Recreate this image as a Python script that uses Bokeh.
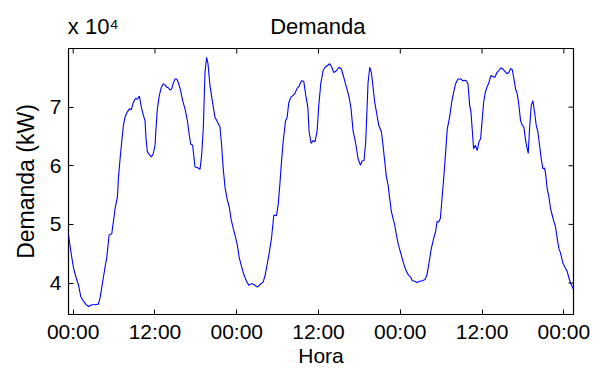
from bokeh.plotting import figure
from bokeh.models import Range1d, FixedTicker, LinearAxis
from bokeh.embed import file_html
from bokeh.resources import INLINE
import math

# Time in hours from the first midnight
hora = [-0.69, -0.35, 0.04, 0.43, 0.77, 1.11, 1.50, 1.90, 2.29, 2.73, 3.21, 3.70, 3.95, 4.34, 4.73, 4.92,
        5.27, 5.66, 5.90, 6.15, 6.49, 6.63, 6.88, 7.12, 7.37, 7.61, 7.95, 8.25, 8.54, 8.83, 9.08, 9.47,
        9.71, 10.00, 10.30, 10.54, 10.69, 10.88, 11.18, 11.47, 11.76, 12.01, 12.15, 12.35, 12.64, 12.94,
        13.23, 13.47, 13.72, 13.96, 14.21, 14.45, 14.70, 14.94, 15.19, 15.43, 15.77, 16.06, 16.41, 16.75,
        17.04, 17.24, 17.53, 17.87, 18.21, 18.61, 18.85, 19.09, 19.34, 19.58, 19.78, 20.07, 20.41, 20.80,
        21.15, 21.54, 21.78, 22.02, 22.27, 22.61, 22.90, 23.15, 23.49, 23.83, 24.08, 24.37, 24.71, 25.05,
        25.44, 25.79, 26.18, 26.57, 27.01, 27.40, 27.89, 28.18, 28.37, 28.76, 29.10, 29.44, 29.84, 30.08,
        30.32, 30.57, 30.81, 31.15, 31.40, 31.64, 31.94, 32.28, 32.57, 32.86, 33.16, 33.50, 33.84, 34.13,
        34.43, 34.62, 34.92, 35.21, 35.50, 35.80, 36.04, 36.33, 36.67, 36.97, 37.31, 37.65, 37.95, 38.24,
        38.63, 39.02, 39.36, 39.70, 40.09, 40.49, 40.78, 41.07, 41.46, 41.80, 42.15, 42.39, 42.68, 42.93,
        43.27, 43.52, 43.76, 44.01, 44.25, 44.59, 44.84, 45.23, 45.47, 45.72, 45.96, 46.21, 46.45, 46.69,
        46.94, 47.18, 47.43, 47.67, 47.92, 48.26, 48.55, 48.89, 49.23, 49.53, 49.77, 50.11, 50.46, 50.85,
        51.24, 51.63, 51.92, 52.21, 52.56, 52.90, 53.19, 53.39, 53.63, 53.88, 54.17, 54.41, 54.66, 54.90,
        55.24, 55.54, 55.83, 56.12, 56.46, 56.85, 57.20, 57.49, 57.69, 57.93, 58.18, 58.37, 58.57, 58.76,
        59.01, 59.30, 59.55, 59.79, 60.03, 60.23, 60.47, 60.72, 61.01, 61.30, 61.60, 61.89, 62.18, 62.43,
        62.77, 63.06, 63.36, 63.65, 63.94, 64.19, 64.43, 64.68, 64.92, 65.16, 65.41, 65.65, 65.90, 66.14,
        66.39, 66.63, 66.78, 66.97, 67.22, 67.46, 67.70, 67.95, 68.19, 68.44, 68.68, 68.93, 69.17, 69.32,
        69.56, 69.81, 70.05, 70.29, 70.54, 70.78, 71.03, 71.27, 71.52, 71.86, 72.20, 72.49, 72.74, 72.98,
        73.23, 73.42]

# Demand in kW
demanda = [48200, 45400, 42600, 40900, 39700, 37700, 36900, 36300, 36000, 36300, 36300, 36400, 37500, 40300,
           43100, 44300, 48200, 48400, 50500, 52700, 54700, 57800, 61200, 64100, 66900, 68300, 69200, 69700,
           69600, 70800, 71400, 71400, 71900, 70000, 68600, 67700, 64600, 62400, 61900, 61500, 62100, 63500,
           66300, 69700, 72000, 73400, 74000, 73800, 73400, 73300, 72900, 73100, 74100, 74800, 74800, 74200,
           72800, 71100, 69700, 67700, 65200, 63700, 63500, 59800, 59700, 59400, 61800, 66300, 75900, 78500,
           77400, 73700, 71100, 68300, 67500, 66600, 63500, 59500, 56400, 54200, 53000, 51000, 49300, 47800,
           46500, 44300, 42800, 41400, 40300, 39600, 39900, 39700, 39300, 39700, 40200, 41400, 42600, 45100,
           47600, 51600, 51500, 53300, 56700, 60700, 64100, 67600, 68300, 70800, 71700, 72000, 72400, 73200,
           73600, 74500, 74400, 72000, 70000, 65800, 63800, 64300, 64100, 66000, 70300, 74000, 76200, 76800,
           77100, 77400, 76800, 75900, 76200, 76800, 76500, 75100, 73400, 71700, 69700, 66000, 63800, 61200,
           60100, 60800, 60900, 64100, 74200, 76800, 75900, 73400, 70800, 68600, 66900, 65800, 63500, 60700,
           58100, 56700, 54400, 52200, 51000, 49900, 48200, 46800, 45700, 44300, 43100, 42000, 41300, 41000,
           40400, 40300, 40100, 40300, 40400, 40600, 41400, 43400, 45900, 47600, 48800, 50500, 50400, 51000,
           55000, 58400, 62400, 66300, 68300, 70800, 72500, 74000, 74800, 74800, 74500, 74600, 74500, 74000,
           70300, 69200, 66000, 62900, 63500, 62600, 64100, 64600, 68000, 70800, 72500, 73400, 74200, 75400,
           75200, 75100, 75900, 76200, 76700, 76500, 76100, 75700, 75900, 76600, 76400, 74800, 73100, 72300,
           70300, 67700, 66900, 66600, 64300, 62900, 62100, 66300, 70300, 71100, 69200, 66900, 65800, 63500,
           61200, 59500, 59600, 58700, 56100, 54700, 52700, 51600, 50500, 49600, 47600, 45900, 45100, 43400,
           42600, 42000, 40900, 40000, 39400, 38900]

tick_pos = [0, 12, 24, 36, 48, 60, 72]
tick_txt = ["00:00", "12:00", "00:00", "12:00", "00:00", "12:00", "00:00"]
ytick_pos = [40000, 50000, 60000, 70000]
ytick_txt = ["4", "5", "6", "7"]
titulo = "Demanda"
exponente = "x 10\u2074"

FONT = "Liberation Sans"
X0, X1 = -0.69, 73.42
Y0, Y1 = 34630, 80000
# horizontal anchors (in hours) of the header texts above the frame
EXP_AT, TITLE_AT = 2.95, 35.9

p = figure(width=601, height=369, output_backend="svg", toolbar_location=None,
           x_range=Range1d(X0, X1), y_range=Range1d(Y0, Y1),
           min_border_left=68, min_border_right=28, min_border_top=48, min_border_bottom=54)
p.background_fill_color = "white"
p.border_fill_color = "white"
p.grid.visible = False
p.outline_line_color = "black"
p.outline_line_width = 1.2

p.line(hora, demanda, line_color="#0000FF", line_width=1.1)

# mirrored inward ticks on the top and right edges (half of each dash is clipped by the frame)
p.scatter(tick_pos, [Y1] * len(tick_pos), marker="dash", size=10, angle=math.pi / 2,
          line_color="black", line_width=1)
p.scatter([X1] * len(ytick_pos), ytick_pos, marker="dash", size=10,
          line_color="black", line_width=1)

def style(ax):
    ax.axis_line_color = None
    ax.major_tick_in = 5
    ax.major_tick_out = 0
    ax.minor_tick_line_color = None
    ax.major_tick_line_color = "black"
    ax.major_label_text_font = FONT
    ax.major_label_text_font_size = "21px"
    ax.major_label_text_color = "black"
    ax.axis_label_text_font = FONT
    ax.axis_label_text_font_style = "normal"
    ax.axis_label_text_color = "black"

xa = p.xaxis[0]
xa.ticker = FixedTicker(ticks=tick_pos)
xa.major_label_overrides = {t: s for t, s in zip(tick_pos, tick_txt)}
style(xa)
xa.major_label_standoff = 5
xa.axis_label = "Hora"
xa.axis_label_text_font_size = "21px"
xa.axis_label_standoff = -2

ya = p.yaxis[0]
ya.ticker = FixedTicker(ticks=ytick_pos)
ya.major_label_overrides = {t: s for t, s in zip(ytick_pos, ytick_txt)}
style(ya)
ya.major_label_standoff = 7
ya.axis_label = "Demanda (kW)"
ya.axis_label_text_font_size = "23px"
ya.axis_label_standoff = 8

# header line: exponent at the left and the title centred, on one baseline
head = LinearAxis(ticker=FixedTicker(ticks=[EXP_AT, TITLE_AT]),
                  major_label_overrides={EXP_AT: exponente, TITLE_AT: titulo})
style(head)
head.major_tick_line_color = None
head.major_tick_in = 0
head.major_label_text_font_size = "22px"
head.major_label_standoff = 10
p.add_layout(head, "above")

open("out.html", "w").write(file_html(p, INLINE))
